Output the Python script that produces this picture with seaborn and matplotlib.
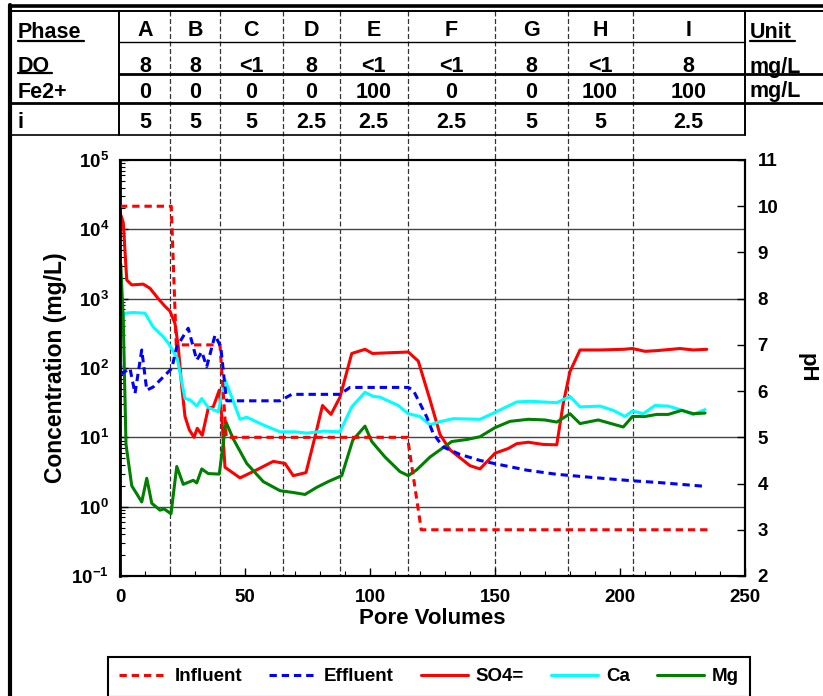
import math
import matplotlib
matplotlib.use("Agg")
import matplotlib.pyplot as plt
import matplotlib.transforms as mtransforms
from matplotlib.ticker import LogLocator, MultipleLocator, FuncFormatter, NullFormatter
import seaborn as sns

# ---- phase table ----
row_names = ["Phase", "DO", "Fe2+", "i"]
phases = ["A", "B", "C", "D", "E", "F", "G", "H", "I"]
do_vals = ["8", "8", "<1", "8", "<1", "<1", "8", "<1", "8"]
fe_vals = ["0", "0", "0", "0", "100", "0", "0", "100", "100"]
i_vals = ["5", "5", "5", "2.5", "2.5", "2.5", "5", "5", "2.5"]
units = ["Unit", "mg/L", "mg/L", ""]
phase_bounds = [0, 20, 40, 65, 88, 115, 150, 179, 205, 250]

# ---- pH series (right axis) ----
influent_pv = [0, 20.5, 22.5, 40, 42.5, 115, 120.5, 235]
influent_ph = [10, 10, 7, 7, 5, 5, 3, 3]

effluent_pv = [0, 0.7, 4, 6, 8.7, 10.7, 13.3, 20.7, 22.7, 27.3, 30.7, 32.7, 34.7,
               38, 40.3, 42, 42.7, 64, 68.7, 88, 92, 115.3, 117.3, 122.7, 125.3,
               129.3, 136, 144, 150, 162.7, 174.7, 189.3, 205, 216, 234]
effluent_ph = [6.67, 6.38, 6.49, 5.95, 6.89, 6.02, 6.09, 6.49, 6.96, 7.36, 6.67, 6.85,
               6.53, 7.21, 6.96, 6.09, 5.79, 5.79, 5.93, 5.93, 6.08, 6.08, 6.02, 5.44,
               5.08, 4.79, 4.63, 4.50, 4.43, 4.29, 4.20, 4.13, 4.06, 4.02, 3.94]

# ---- concentrations, mg/L (left axis) ----
so4_pv = [0, 1.3, 2.7, 4.7, 9.3, 12, 15.3, 18, 20, 22, 23.3, 24.7, 26, 27.7, 29.6,
          30.9, 32.9, 35.3, 37.3, 39.7, 40.7, 42, 48, 54.7, 61.3, 66, 69.3, 74.4, 78,
          81, 84.4, 88, 92.7, 98, 101, 108, 115.3, 119.3, 124, 128, 132, 140, 144,
          150, 155.3, 158.7, 163.3, 169.3, 174.7, 177.3, 180, 184, 192, 201.3, 205,
          210, 214.7, 224, 229.3, 234.7]
so4 = [17400, 12600, 1860, 1580, 1620, 1410, 1000, 776, 661, 437, 204, 54, 20, 12.9,
       10, 13.5, 10.7, 26.3, 27.5, 47.9, 20, 3.7, 2.6, 3.4, 4.5, 4.2, 2.8, 3.1, 10.2,
       28.8, 21.4, 38, 162, 186, 162, 166, 170, 126, 34.7, 11, 6.6, 3.9, 3.5, 5.9,
       6.9, 8.1, 8.5, 7.9, 7.8, 30.9, 89, 182, 182, 186, 191, 174, 178, 191, 182, 186]

ca_pv = [0, 2, 5.3, 10, 13.3, 17.3, 19.3, 22.9, 26, 28, 30.7, 32.7, 35.3, 39.3, 42,
         44.7, 48, 50.7, 57.3, 64, 70, 74.7, 81.3, 88, 92.7, 98, 101.3, 104, 111.3,
         115.3, 120, 124, 127.3, 133.3, 144, 150, 158.7, 164, 174.7, 180, 184, 192,
         197.3, 202, 205, 209.3, 214, 219.3, 224, 229.3, 234]
ca = [437, 617, 631, 617, 389, 282, 229, 138, 36.3, 34.7, 28.2, 36.3, 26.9, 23.4, 67.6,
      38, 18.2, 19.5, 15.1, 12.0, 12.0, 11.5, 12.3, 12.0, 27.5, 44.7, 38.9, 38, 28.8,
      21.9, 20, 15.1, 16.6, 18.6, 18.2, 22.9, 32.4, 33.1, 31.6, 38.9, 27.5, 28.2, 24.5,
      20, 24, 21.9, 28.8, 28.2, 25.1, 21.4, 25.1]

mg_pv = [0.3, 1.3, 2.4, 4.7, 8.7, 10.7, 12.7, 16, 17.6, 20.4, 22.7, 25.3, 29.3, 30.7,
         32.7, 35.3, 39.7, 42.4, 45.3, 50.7, 57.3, 64, 69.3, 74, 78.7, 83.3, 88.7, 93.1,
         98, 100.7, 106, 112, 115.3, 118.7, 124, 132.7, 138.7, 144, 150, 156, 163.3,
         170, 174.7, 180, 184, 191.3, 201.3, 205, 210, 214.7, 219.3, 224.7, 229.3, 234]
mg = [3160, 500, 7.9, 2.0, 1.17, 2.57, 1.12, 0.89, 0.93, 0.79, 3.8, 2.1, 2.4, 2.2, 3.5,
      3.0, 2.95, 16.6, 9.5, 4.2, 2.3, 1.7, 1.6, 1.5, 1.9, 2.3, 2.8, 9.1, 14.5, 8.7, 5.2,
      3.2, 2.8, 3.4, 5.2, 8.7, 9.3, 10.2, 13.8, 17, 18.2, 17.8, 16.6, 21.9, 15.8, 17.8,
      14.1, 20, 20, 21.4, 21.4, 24.5, 21.9, 22.4]

sns.set_theme(style="white")
plt.rcParams["font.family"] = ["Liberation Sans", "DejaVu Sans"]
plt.rcParams["font.weight"] = "bold"
plt.rcParams["text.color"] = "black"
plt.rcParams["axes.labelcolor"] = "black"
plt.rcParams["xtick.color"] = "black"
plt.rcParams["ytick.color"] = "black"
plt.rcParams["axes.unicode_minus"] = False
plt.rcParams["mathtext.fontset"] = "custom"
plt.rcParams["mathtext.rm"] = "Liberation Sans:bold"
plt.rcParams["mathtext.bf"] = "Liberation Sans:bold"
plt.rcParams["mathtext.default"] = "bf"

W, H = 823, 696
fig = plt.figure(figsize=(W / 100, H / 100), dpi=100, facecolor="white")

# overlay in pixel units for the table and frame
ov = fig.add_axes([0, 0, 1, 1], zorder=-1)
ov.set_xlim(0, W)
ov.set_ylim(H, 0)
ov.axis("off")

ax_l, ax_r, ax_t, ax_b = 120, 745, 160, 576
ax = fig.add_axes([ax_l / W, (H - ax_b) / H, (ax_r - ax_l) / W, (ax_b - ax_t) / H])
ax.set_facecolor("none")
ax2 = ax.twinx()

lw = 2.2
sns.lineplot(x=so4_pv, y=so4, ax=ax, color="#ff0000", lw=lw, label="SO4=",
             sort=False, estimator=None)
sns.lineplot(x=ca_pv, y=ca, ax=ax, color="#00ffff", lw=lw, label="Ca",
             sort=False, estimator=None)
sns.lineplot(x=mg_pv, y=mg, ax=ax, color="#008000", lw=lw, label="Mg",
             sort=False, estimator=None)
sns.lineplot(x=influent_pv, y=influent_ph, ax=ax2, color="#ff0000", lw=lw,
             linestyle=(0, (2.4, 1.6)), label="Influent", sort=False, estimator=None)
sns.lineplot(x=effluent_pv, y=effluent_ph, ax=ax2, color="#0000ff", lw=lw,
             linestyle=(0, (2.4, 1.6)), label="Effluent", sort=False, estimator=None)

h1, l1 = ax.get_legend_handles_labels()
h2, l2 = ax2.get_legend_handles_labels()
for a in (ax, ax2):
    if a.get_legend() is not None:
        a.get_legend().remove()

# axes scales and ticks
ax.set_xlim(0, 250)
ax.set_yscale("log")
ax.set_ylim(0.1, 1e5)
ax2.set_ylim(2, 11)

ax.xaxis.set_major_locator(MultipleLocator(50))
ax.xaxis.set_minor_locator(MultipleLocator(10))
ax.yaxis.set_major_locator(LogLocator(base=10, numticks=10))
ax.yaxis.set_minor_locator(LogLocator(base=10, subs=range(2, 10), numticks=20))
ax.yaxis.set_minor_formatter(NullFormatter())
ax.yaxis.set_major_formatter(
    FuncFormatter(lambda v, p: r"$\mathbf{10^{%d}}$" % round(math.log10(v))))
ax2.yaxis.set_major_locator(MultipleLocator(1))

ax.tick_params(axis="x", which="major", direction="in", length=6, width=1, pad=9,
               labelsize=13.5, colors="black", bottom=True)
ax.tick_params(axis="x", which="minor", direction="in", length=3.5, width=0.8, bottom=True)
ax.tick_params(axis="y", which="major", direction="in", length=6, width=1, pad=8,
               labelsize=13.5, left=True)
ax.tick_params(axis="y", which="minor", direction="in", length=3.5, width=0.8, left=True)
ax2.tick_params(axis="y", which="major", direction="in", length=6, width=1, pad=9,
                labelsize=13.5, right=True)
for lab in ax.get_xticklabels() + ax.get_yticklabels() + ax2.get_yticklabels():
    lab.set_fontweight("bold")

ax.grid(False)
ax2.grid(False)
for d in (1, 10, 100, 1000, 10000):
    ax.axhline(d, color="#444444", lw=1.0, zorder=0.5)

for a in (ax, ax2):
    for s in a.spines.values():
        s.set_color("black")
        s.set_linewidth(1.5)
ax.spines["left"].set_linewidth(2)

ax.set_xlabel("Pore Volumes", fontsize=16, fontweight="bold", labelpad=2)
ax.set_ylabel("Concentration (mg/L)", fontsize=16.5, fontweight="bold", labelpad=3)
ax2.set_ylabel("pH", fontsize=16, fontweight="bold", rotation=270, labelpad=28)

# phase boundary lines spanning table and plot
blend = mtransforms.blended_transform_factory(ax.transData, ov.transData)
for b in phase_bounds[1:-1]:
    ov.plot([b, b], [11, ax_b], transform=blend, color="#333333", lw=0.9,
            linestyle=(0, (4, 2)), zorder=1)

# table frame
ov.plot([10.5, 10.5], [5, H], color="black", lw=3)
ov.plot([10, W], [6, 6], color="black", lw=2.6)
ov.plot([10, W], [11, 11], color="black", lw=1.4)
ov.plot([ax_l - 1, ax_r], [42, 42], color="black", lw=1.0)
ov.plot([ax_l - 1, W], [74, 74], color="black", lw=2.0)
ov.plot([10, W], [103, 103], color="black", lw=2.0)
ov.plot([10, ax_r], [135, 135], color="black", lw=1.2)
ov.plot([ax_l - 1, ax_l - 1], [11, 135], color="black", lw=1.4)
ov.plot([ax_r, ax_r], [11, 135], color="black", lw=1.4)
# underlined row titles
ov.plot([18, 84], [41, 41], color="black", lw=1.6)
ov.plot([18, 52], [73, 73], color="black", lw=1.6)
ov.plot([750, 795], [41, 41], color="black", lw=1.6)

tfont = dict(fontsize=15.5, fontweight="bold", color="black")
row_y = [30, 66, 93, 122]
name_y = [33, 67, 92, 122]
for name, y in zip(row_names, name_y):
    ov.text(18, y, name, ha="left", va="center", **tfont)
for unit, y in zip(units, name_y):
    if unit:
        ov.text(750, y, unit, ha="left", va="center", **tfont)
for k, col in enumerate(zip(phases, do_vals, fe_vals, i_vals)):
    xc = 0.5 * (phase_bounds[k] + phase_bounds[k + 1])
    for txt, y in zip(col, row_y):
        ov.text(xc, y, txt, ha="center", va="center", transform=blend, **tfont)

# legend along the bottom
handles = h2 + h1
labels = l2 + l1
leg = fig.legend(handles, labels, loc="upper left",
                 bbox_to_anchor=(108 / W, 1 - 657 / H), ncol=5, frameon=True,
                 fancybox=False, edgecolor="black", framealpha=1, borderaxespad=0,
                 handlelength=2.5, handletextpad=0.45, columnspacing=1.42,
                 borderpad=0.6, prop=dict(size=13.5, weight="bold"))
leg.get_frame().set_linewidth(1.5)

fig.savefig("out.png", dpi=100, facecolor="white")
